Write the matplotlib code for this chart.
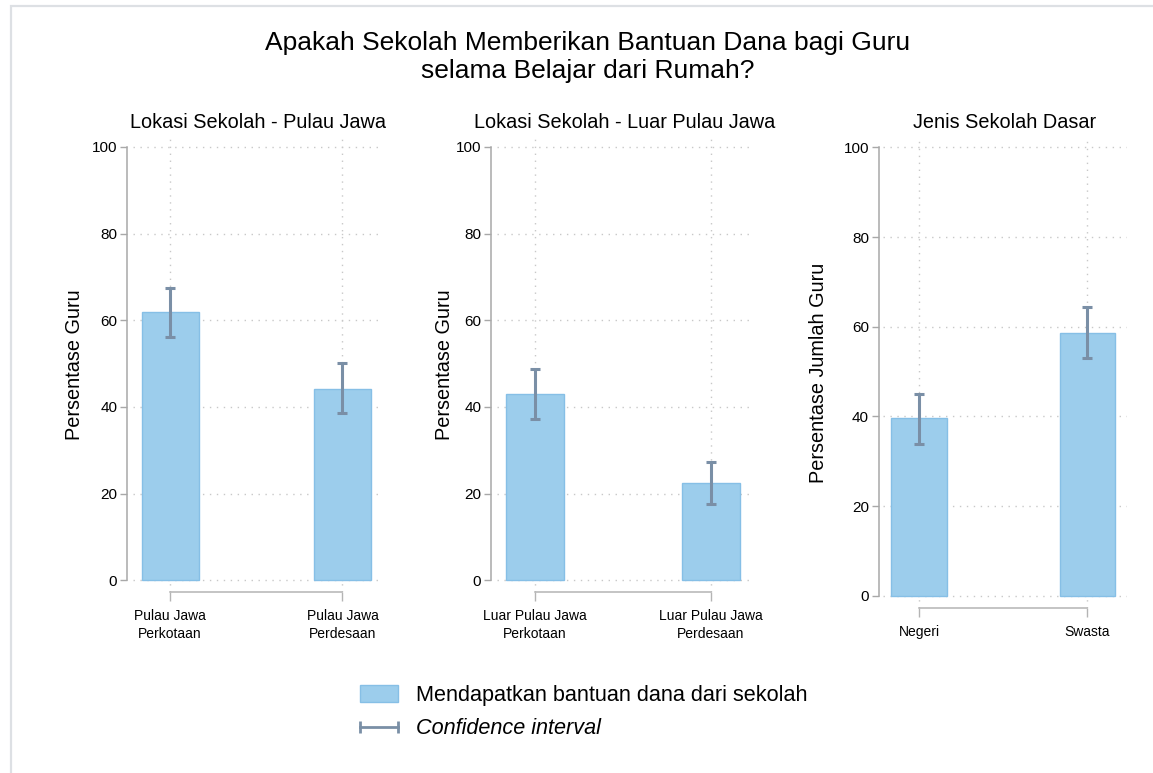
import matplotlib
matplotlib.use('Agg')
import matplotlib.pyplot as plt
import numpy as np
from matplotlib.patches import Patch, Rectangle
from matplotlib.lines import Line2D
from matplotlib.legend_handler import HandlerLine2D

plt.rcParams['font.family'] = ['Liberation Sans', 'DejaVu Sans']

# ---------------- data ----------------
title = "Apakah Sekolah Memberikan Bantuan Dana bagi Guru\nselama Belajar dari Rumah?"

p1_title = "Lokasi Sekolah - Pulau Jawa"
p1_cats = ["Pulau Jawa\nPerkotaan", "Pulau Jawa\nPerdesaan"]
p1_vals = [61.8, 44.2]
p1_lo = [56.1, 38.5]
p1_hi = [67.4, 50.1]

p2_title = "Lokasi Sekolah - Luar Pulau Jawa"
p2_cats = ["Luar Pulau Jawa\nPerkotaan", "Luar Pulau Jawa\nPerdesaan"]
p2_vals = [43.0, 22.5]
p2_lo = [37.3, 17.6]
p2_hi = [48.7, 27.3]

p3_title = "Jenis Sekolah Dasar"
p3_cats = ["Negeri", "Swasta"]
p3_vals = [39.6, 58.7]
p3_lo = [33.9, 53.0]
p3_hi = [45.1, 64.4]

ylabels = ["Persentase Guru", "Persentase Guru", "Persentase Jumlah Guru"]
yticks = [0, 20, 40, 60, 80, 100]
legend_labels = ["Mendapatkan bantuan dana dari sekolah", "Confidence interval"]

# ---------------- style ----------------
BAR = '#9ccdec'
BAR_EDGE = '#86bfe6'
ERR = '#7a8fa6'
GRID = '#c8c8c8'
AXC = '#a8a8a8'

W, H = 1153, 773
fig = plt.figure(figsize=(W / 100, H / 100), dpi=100)

# outer light border (top & left visible)
fig.add_artist(Rectangle((11 / W, -0.2), 1.5, 1.2 - 6 / H, transform=fig.transFigure,
                         fill=False, edgecolor='#dde0e4', lw=1.6))

def px_axes(l, t, r, b):
    return fig.add_axes([l / W, 1 - b / H, (r - l) / W, (b - t) / H])

panels = [
    (px_axes(133, 137, 383, 592), p1_title, p1_cats, p1_vals, p1_lo, p1_hi, ylabels[0], 4.3, -0.236),
    (px_axes(497, 137, 752, 592), p2_title, p2_cats, p2_vals, p2_lo, p2_hi, ylabels[1], 4.3, -0.204),
    (px_axes(883, 137, 1127, 608), p3_title, p3_cats, p3_vals, p3_lo, p3_hi, ylabels[2], 3.0, -0.266),
]

for ax, ttl, cats, vals, lo, hi, ylab, off, labx in panels:
    x = np.arange(1, len(cats) + 1)
    vals = np.array(vals)
    lo = np.array(lo)
    hi = np.array(hi)
    ax.bar(x, vals, width=0.33, color=BAR, edgecolor=BAR_EDGE, linewidth=1, zorder=2)
    ax.errorbar(x, vals, yerr=[vals - lo, hi - vals], fmt='none', ecolor=ERR,
                elinewidth=2.2, capsize=3.6, capthick=2.2, zorder=3)
    ax.set_xlim(0.785, 2.235)
    ax.set_ylim(-2.7, 102.3)
    ax.set_xticks(x)
    ax.set_xticklabels(cats, linespacing=1.35)
    ax.set_yticks(yticks)
    ax.set_yticklabels([str(t) for t in yticks])
    ax.set_axisbelow(True)
    ax.grid(True, color=GRID, linestyle=(0, (1, 4)), linewidth=1)
    gl = ax.get_ygridlines()
    gl[0].set_visible(False)
    gl[-1].set_visible(False)
    for s in ['top', 'right']:
        ax.spines[s].set_visible(False)
    ax.spines['left'].set_bounds(0, 100)
    ax.spines['left'].set_position(('outward', off))
    ax.spines['left'].set_color(AXC)
    ax.spines['left'].set_linewidth(1.1)
    ax.spines['bottom'].set_bounds(1, 2)
    ax.spines['bottom'].set_color('#b4b4b4')
    ax.spines['bottom'].set_linewidth(1.1)
    ax.tick_params(axis='y', length=5, width=1, color=AXC, pad=2, labelsize=11)
    ax.tick_params(axis='x', length=6.5, width=1, color='#b4b4b4', pad=6, labelsize=10)
    ax.set_ylabel(ylab, fontsize=14.3, va='center')
    ax.yaxis.set_label_coords(labx, 0.5)
    ax.set_title(ttl, fontsize=14.3, pad=6.5)
    ax.set_facecolor('none')

fig.text(588 / W, 1 - 57 / H, title, ha='center', va='center', fontsize=19, linespacing=1.17)

ci_handle = Line2D([0, 1], [0, 0], color=ERR, lw=2, marker='|', markersize=8,
                   markeredgewidth=2)
handles = [Patch(facecolor=BAR, edgecolor=BAR_EDGE, linewidth=1), ci_handle]
leg = fig.legend(handles, legend_labels, loc='upper left',
                 bbox_to_anchor=(360 / W, 1 - 685 / H), frameon=False,
                 fontsize=15.6, handlelength=1.75, handleheight=0.78,
                 handletextpad=0.83, labelspacing=0.57, borderpad=0,
                 borderaxespad=0, numpoints=2,
                 handler_map={ci_handle: HandlerLine2D(marker_pad=0, numpoints=2)})
leg.get_texts()[1].set_fontstyle('italic')

fig.savefig('out.png', dpi=100, facecolor='white')
